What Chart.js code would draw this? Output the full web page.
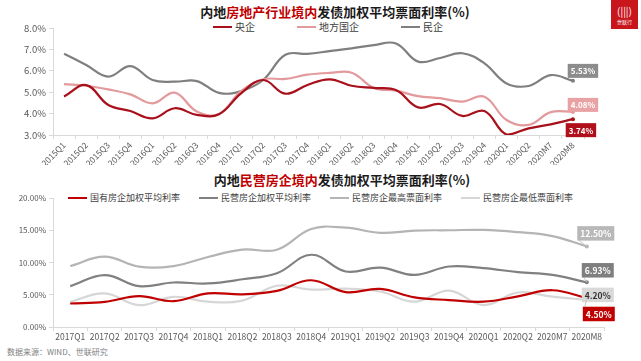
<!DOCTYPE html>
<html>
<head>
<meta charset="utf-8">
<script src="https://cdn.jsdelivr.net/npm/chart.js@4.4.0/dist/chart.umd.min.js"></script>
<style>
body { margin: 0; background: #fff; font-family: "Noto Sans CJK SC", sans-serif; }
#wrap { position: relative; width: 641px; height: 361px; overflow: hidden; }
canvas { position: absolute; left: 0; }
.title { position: absolute; font-weight: bold; font-size: 13px; line-height: 18px; white-space: nowrap; transform: translateX(-50%); color: #1a1a1a; }
.title span { color: #c00000; }
.legend { position: absolute; display: flex; white-space: nowrap; color: #404040; line-height: 12px; }
.legend div { display: flex; align-items: center; }
.legend i { display: inline-block; height: 2px; margin-right: 3px; }
#foot { position: absolute; left: 7px; top: 346px; font-size: 8px; color: #808080; }
#logo { position: absolute; left: 611px; top: 0; width: 27px; height: 29px; background: #c9161d; color: #fff; text-align: center; }
#logo b { display: block; font-size: 10px; line-height: 15px; margin-top: 3px; font-weight: normal; }
#logo small { display: block; font-size: 5px; line-height: 7px; }
</style>
</head>
<body>
<div id="wrap">
  <div class="title" style="left:335px;top:3px">内地<span>房地产行业境内</span>发债加权平均票面利率(%)</div>
  <div class="legend" id="legend1" style="left:213px;top:21px;font-size:10px;gap:42px"></div>
  <canvas id="chart1" width="641" height="165" style="top:0"></canvas>

  <div class="title" style="left:342px;top:171px">内地<span>民营房企境内</span>发债加权平均票面利率(%)</div>
  <div class="legend" id="legend2" style="left:68px;top:192px;font-size:9px;gap:19px"></div>
  <canvas id="chart2" width="641" height="180" style="top:165px"></canvas>

  <div id="foot">数据来源：WIND、世联研究</div>
  <div id="logo"><b>(|||)</b><small>世联行</small></div>
</div>
<script>
// ---- top chart data ----
const quarters1 = ['2015Q1','2015Q2','2015Q3','2015Q4','2016Q1','2016Q2','2016Q3','2016Q4',
  '2017Q1','2017Q2','2017Q3','2017Q4','2018Q1','2018Q2','2018Q3','2018Q4',
  '2019Q1','2019Q2','2019Q3','2019Q4','2020Q1','2020Q2','2020M7','2020M8'];
const centralSoe = [4.8, 5.33, 4.4, 4.12, 3.78, 4.25, 3.94, 3.97, 4.95, 5.57, 4.93, 5.34,
  5.6, 5.3, 5.2, 5.1, 4.29, 4.45, 3.89, 4.12, 3.02, 3.31, 3.5, 3.74];
const localSoe = [5.38, 5.3, 5.13, 4.9, 4.48, 4.98, 4.1, 3.98, 5.05, 5.6, 5.62, 5.82,
  5.9, 5.91, 5.2, 5.07, 4.82, 4.72, 4.56, 4.79, 3.7, 3.47, 4.07, 4.08];
const privateCo = [6.8, 6.27, 5.73, 6.22, 5.57, 5.49, 5.52, 4.97, 5.05, 5.57, 6.75, 6.79,
  6.92, 7.05, 7.2, 7.28, 6.43, 6.6, 6.82, 6.35, 5.41, 5.29, 5.8, 5.53];
const yTicks1 = { min: 3, max: 8, step: 1 };

// ---- bottom chart data ----
const quarters2 = ['2017Q1','2017Q2','2017Q3','2017Q4','2018Q1','2018Q2','2018Q3','2018Q4',
  '2019Q1','2019Q2','2019Q3','2019Q4','2020Q1','2020Q2','2020M7','2020M8'];
const stateAvg = [3.64, 3.9, 4.78, 4.0, 5.22, 5.05, 5.6, 7.25, 5.4, 5.9, 4.6, 4.18, 3.92, 4.75, 5.7, 4.5];
const privateAvg = [6.34, 8.05, 6.34, 6.9, 6.75, 7.4, 8.33, 11.2, 8.6, 9.2, 8.07, 9.38, 9.12, 8.5, 8.08, 6.93];
const privateMax = [9.45, 10.9, 9.35, 9.45, 10.85, 12.0, 11.98, 15.2, 15.4, 14.6, 14.95, 15.0, 15.05, 14.7, 14.1, 12.5];
const privateMin = [3.9, 5.2, 3.38, 4.68, 3.92, 4.1, 6.4, 5.8, 5.95, 5.5, 3.92, 5.65, 3.4, 5.35, 4.7, 4.2];
const yTicks2 = { min: 0, max: 20, step: 5 };

const FONT = '"Noto Sans CJK SC", sans-serif';
const AXIS = '#d9d9d9';

// boxes with the last value, sitting next to the last point
const endLabels = {
  id: 'endLabels',
  afterDatasetsDraw(chart, args, opts) {
    const ctx = chart.ctx;
    (opts.items || []).forEach(function (it) {
      const ds = chart.data.datasets[it.dataset];
      const meta = chart.getDatasetMeta(it.dataset);
      const pt = meta.data[meta.data.length - 1];
      const text = ds.data[ds.data.length - 1].toFixed(2) + '%';
      ctx.save();
      ctx.font = 'bold ' + opts.size + 'px ' + FONT;
      const w = ctx.measureText(text).width + 6;
      const h = opts.size + 6;
      const cx = pt.x + it.dx, cy = pt.y + it.dy;
      if (opts.leader) {
        ctx.strokeStyle = '#c8c8c8';
        ctx.lineWidth = 1;
        ctx.beginPath();
        ctx.moveTo(pt.x, pt.y);
        ctx.lineTo(cx - w / 2 + 2, cy + (it.dy < 0 ? h / 2 : -h / 2));
        ctx.stroke();
      }
      ctx.fillStyle = it.bg;
      ctx.fillRect(cx - w / 2, cy - h / 2, w, h);
      ctx.fillStyle = it.fg;
      ctx.textAlign = 'center';
      ctx.textBaseline = 'middle';
      ctx.fillText(text, cx, cy + 0.5);
      ctx.restore();
    });
  }
};

function line(label, data, color, width) {
  const last = data.length - 1;
  return {
    label: label, data: data,
    borderColor: color, backgroundColor: color,
    borderWidth: width, tension: 0.4, fill: false,
    pointRadius: c => c.dataIndex === last ? 2 : 0,
    pointBackgroundColor: color, pointBorderWidth: 0
  };
}

function buildLegend(id, datasets) {
  const box = document.getElementById(id);
  datasets.forEach(function (d) {
    const item = document.createElement('div');
    item.innerHTML = '<i style="width:19px;background:' + d.borderColor + '"></i>' + d.label;
    box.appendChild(item);
  });
}

function options(cfg) {
  return {
    responsive: false,
    animation: false,
    layout: { padding: cfg.padding },
    plugins: { legend: { display: false }, tooltip: { enabled: false }, endLabels: cfg.labels },
    scales: {
      x: {
        offset: true,
        grid: { offset: true, drawOnChartArea: false, tickLength: 4, color: AXIS },
        border: { color: AXIS },
        ticks: { autoSkip: false, minRotation: cfg.rot, maxRotation: cfg.rot, padding: 1,
                 color: '#595959', font: { family: FONT, size: cfg.xFont } },
        afterFit: s => { s.height = cfg.xHeight; }
      },
      y: {
        min: cfg.y.min, max: cfg.y.max,
        grid: { drawOnChartArea: false, tickLength: 4, color: AXIS },
        border: { color: AXIS },
        ticks: { stepSize: cfg.y.step, padding: 3, color: '#595959',
                 font: { family: FONT, size: cfg.yFont },
                 callback: v => v.toFixed(cfg.dec) + '%' },
        afterFit: s => { s.width = 46; }
      }
    }
  };
}

const ds1 = [
  line('央企', centralSoe, '#a8101c', 2.2),
  line('地方国企', localSoe, '#e39a9c', 2.2),
  line('民企', privateCo, '#7f7f7f', 2.2)
];
buildLegend('legend1', ds1);

new Chart(document.getElementById('chart1'), {
  type: 'line',
  data: { labels: quarters1, datasets: ds1 },
  options: options({
    padding: { left: 7, right: 57, top: 28, bottom: 0 },
    rot: 45, xFont: 8.5, yFont: 9.5, xHeight: 30, y: yTicks1, dec: 1,
    labels: { size: 8, leader: false, items: [
      { dataset: 2, dx: 10, dy: -10, bg: '#8c8c8c', fg: '#fff' },
      { dataset: 1, dx: 10, dy: -7, bg: '#e8a2a4', fg: '#fff' },
      { dataset: 0, dx: 8, dy: 11, bg: '#b0101c', fg: '#fff' }
    ] }
  }),
  plugins: [endLabels]
});

const ds2 = [
  line('国有房企加权平均利率', stateAvg, '#c00000', 2.2),
  line('民营房企加权平均利率', privateAvg, '#808080', 2.2),
  line('民营房企最高票面利率', privateMax, '#b4b4b4', 2.2),
  line('民营房企最低票面利率', privateMin, '#d6d6d6', 2.2)
];
buildLegend('legend2', ds2);

new Chart(document.getElementById('chart2'), {
  type: 'line',
  data: { labels: quarters2, datasets: ds2 },
  options: options({
    padding: { left: 7, right: 37, top: 33, bottom: 0 },
    rot: 0, xFont: 8.5, yFont: 8, xHeight: 18, y: yTicks2, dec: 2,
    labels: { size: 8.5, leader: true, items: [
      { dataset: 2, dx: 9, dy: -13, bg: '#b8b8b8', fg: '#fff' },
      { dataset: 1, dx: 11, dy: -12, bg: '#7f7f7f', fg: '#fff' },
      { dataset: 3, dx: 11, dy: -5, bg: '#d9d9d9', fg: '#333' },
      { dataset: 0, dx: 12, dy: 16, bg: '#c00000', fg: '#fff' }
    ] }
  }),
  plugins: [endLabels]
});
</script>
</body>
</html>
